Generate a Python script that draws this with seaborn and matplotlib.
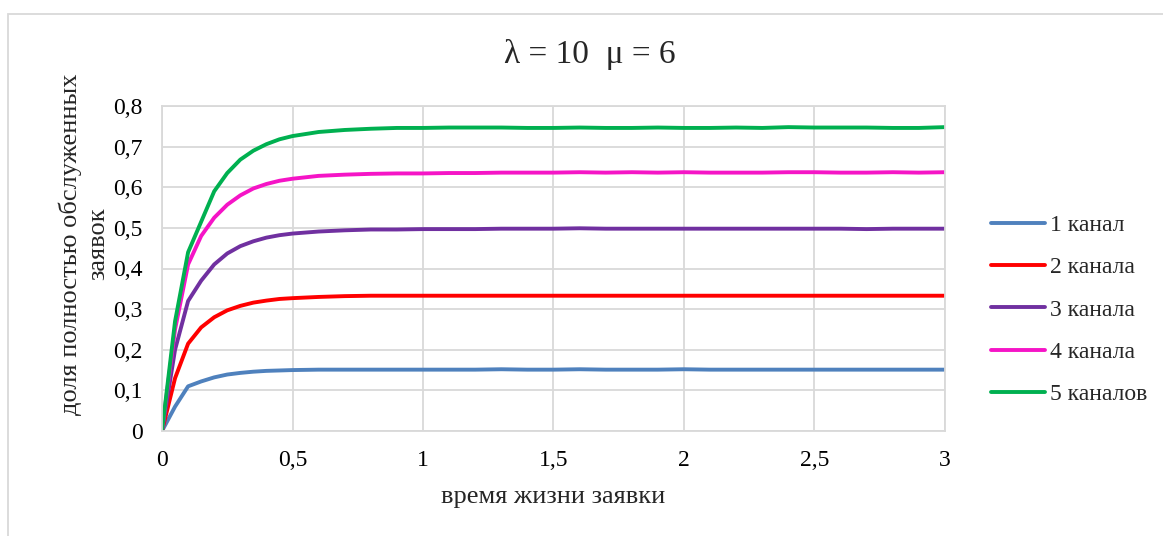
import matplotlib
matplotlib.use("Agg")
import matplotlib.pyplot as plt
import seaborn as sns
import pandas as pd
from matplotlib.patches import Rectangle

# ---- data ----
x_vals = [0, 0.05, 0.1, 0.15, 0.2, 0.25, 0.3, 0.35, 0.4, 0.45, 0.5,
          0.6, 0.7, 0.8, 0.9, 1.0, 1.1, 1.2, 1.3, 1.4, 1.5, 1.6, 1.7, 1.8, 1.9,
          2.0, 2.1, 2.2, 2.3, 2.4, 2.5, 2.6, 2.7, 2.8, 2.9, 3.0]

ch1 = [0, 0.06, 0.11, 0.122, 0.132, 0.139, 0.143, 0.146, 0.148, 0.149, 0.150,
       0.151, 0.151, 0.151, 0.151, 0.151, 0.151, 0.151, 0.152, 0.151, 0.151, 0.152,
       0.151, 0.151, 0.151, 0.152, 0.151, 0.151, 0.151, 0.151, 0.151, 0.151, 0.151,
       0.151, 0.151, 0.151]
ch2 = [0, 0.13, 0.215, 0.255, 0.28, 0.297, 0.308, 0.316, 0.321, 0.325, 0.327,
       0.330, 0.332, 0.333, 0.333, 0.333, 0.333, 0.333, 0.333, 0.333, 0.333, 0.333,
       0.333, 0.333, 0.333, 0.333, 0.333, 0.333, 0.333, 0.333, 0.333, 0.333, 0.333,
       0.333, 0.333, 0.333]
ch3 = [0, 0.2, 0.32, 0.37, 0.41, 0.437, 0.455, 0.467, 0.476, 0.482, 0.486,
       0.491, 0.494, 0.496, 0.496, 0.497, 0.497, 0.497, 0.498, 0.498, 0.498, 0.499,
       0.498, 0.498, 0.498, 0.498, 0.498, 0.498, 0.498, 0.498, 0.498, 0.498, 0.497,
       0.498, 0.498, 0.498]
ch4 = [0, 0.25, 0.41, 0.48, 0.525, 0.557, 0.58, 0.597, 0.608, 0.616, 0.621,
       0.628, 0.631, 0.633, 0.634, 0.634, 0.635, 0.635, 0.636, 0.636, 0.636, 0.637,
       0.636, 0.637, 0.636, 0.637, 0.636, 0.636, 0.636, 0.637, 0.637, 0.636, 0.636,
       0.637, 0.636, 0.637]
ch5 = [0, 0.27, 0.44, 0.515, 0.59, 0.635, 0.668, 0.69, 0.706, 0.718, 0.726,
       0.736, 0.741, 0.744, 0.746, 0.746, 0.747, 0.747, 0.747, 0.746, 0.746, 0.747,
       0.746, 0.746, 0.747, 0.746, 0.746, 0.747, 0.746, 0.748, 0.747, 0.747, 0.747,
       0.746, 0.746, 0.748]

series_names = ["1 канал", "2 канала", "3 канала", "4 канала", "5 каналов"]
series_colors = ["#4F81BD", "#FF0000", "#7030A0", "#F514C6", "#00B050"]

x_ticks = [0, 0.5, 1, 1.5, 2, 2.5, 3]
x_tick_labels = ["0", "0,5", "1", "1,5", "2", "2,5", "3"]
y_ticks = [0, 0.1, 0.2, 0.3, 0.4, 0.5, 0.6, 0.7, 0.8]
y_tick_labels = ["0", "0,1", "0,2", "0,3", "0,4", "0,5", "0,6", "0,7", "0,8"]

title_text = "λ = 10  μ = 6"
x_label = "время жизни заявки"
y_label = "доля полностью обслуженных\nзаявок"

# ---- build frame ----
rows = []
for name, vals in zip(series_names, [ch1, ch2, ch3, ch4, ch5]):
    for xv, yv in zip(x_vals, vals):
        rows.append({"x": xv, "y": yv, "series": name})
df = pd.DataFrame(rows)

sns.set_theme(style="white")
plt.rcParams["font.family"] = ["Liberation Serif", "DejaVu Serif"]

W, H = 1163, 536
fig = plt.figure(figsize=(W / 100, H / 100), dpi=100)
ax = fig.add_axes([162 / W, 1 - 431 / H, (945 - 162) / W, (431 - 106) / H])

sns.lineplot(data=df, x="x", y="y", hue="series", hue_order=series_names,
             palette=series_colors, linewidth=2.8, ax=ax, legend=True)
for ln in ax.get_lines():
    ln.set_solid_joinstyle("round")
    ln.set_solid_capstyle("round")

ax.set_xlim(0, 3)
ax.set_ylim(0, 0.8)
ax.set_xticks(x_ticks)
ax.set_xticklabels(x_tick_labels)
ax.set_yticks(y_ticks)
ax.set_yticklabels(y_tick_labels)
ax.tick_params(axis="both", length=0, labelsize=17, colors="#000000")
ax.tick_params(axis="y", pad=14)
ax.tick_params(axis="x", pad=14)
ax.grid(True, color="#D9D9D9", linewidth=1.3)
ax.set_axisbelow(True)
for s in ax.spines.values():
    s.set_color("#D9D9D9")
    s.set_linewidth(1.3)
ax.set_xlabel("")
ax.set_ylabel("")

# legend
handles, labels = ax.get_legend_handles_labels()
ax.get_legend().remove()
fig.legend(handles, labels, loc="center left",
           bbox_to_anchor=(991 / W, 1 - 310 / H), frameon=False,
           fontsize=17, handlelength=2.3, handletextpad=0.2,
           labelspacing=0.88, borderpad=0, borderaxespad=0)

fig.text(590 / W, 1 - 55 / H, title_text, ha="center", va="center", fontsize=24)
fig.text(553 / W, 1 - 497 / H, x_label, ha="center", va="center", fontsize=19)
fig.text(84 / W, 1 - 244 / H, y_label, ha="center", va="center", fontsize=19,
         rotation=90, linespacing=1.35, multialignment="center")

# outer chart border
fig.patches.append(Rectangle((8 / W, -0.05), 1.1, 1 - 14 / H + 0.05,
                             transform=fig.transFigure, fill=False,
                             edgecolor="#D9D9D9", linewidth=1.3))

fig.savefig("out.png", dpi=100)
